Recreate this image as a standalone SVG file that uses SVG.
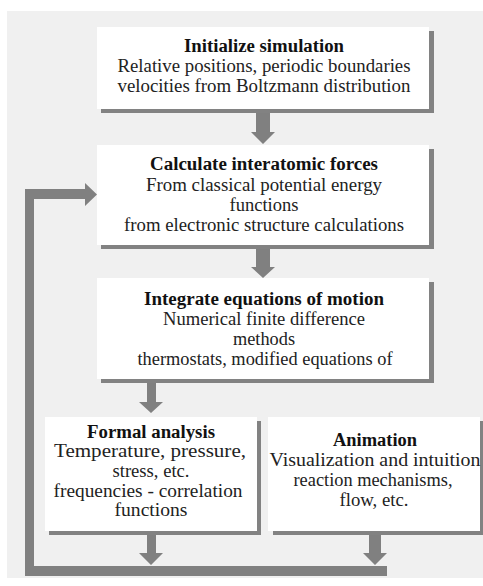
<svg xmlns="http://www.w3.org/2000/svg" width="483" height="586" viewBox="0 0 483 586">
<style>
.panel{fill:#f0f0f0}
.box{fill:#ffffff}
.shadow{fill:#828282}
.arrow{fill:#808080}
text{font-size:18px;fill:#222;text-anchor:middle}
.t{font-weight:bold;fill:#111}
</style>
<rect width="483" height="586" fill="#ffffff"/>
<rect class="panel" x="7" y="11" width="476" height="567"/>
<g id="connectors">
<polygon class="arrow" points="256,113 270,113 270,132 275,132 263,144 251,132 256,132"/>
<polygon class="arrow" points="256,249 270,249 270,267 275,267 263,278 251,267 256,267"/>
<polygon class="arrow" points="147,383 156,383 156,402 163,402 151,413 139,402 147,402"/>
<polygon class="arrow" points="147,535 156,535 156,553 163,553 151,565 139,553 147,553"/>
<polygon class="arrow" points="369,535 381,535 381,553 387,553 375,565 363,553 369,553"/>
<polygon class="arrow" points="25,189 85,189 85,183 97,194.5 85,206 85,199 34,199 34,566 387,566 387,576 25,576"/>
</g>
<g font-family="'Liberation Serif', 'Times New Roman', serif">
<g id="node-init">
<rect class="shadow" x="101" y="31" width="333" height="82"/>
<rect class="box" x="97" y="27" width="332" height="82"/>
<text class="t" x="264" y="52" textLength="160" lengthAdjust="spacingAndGlyphs">Initialize simulation</text>
<text x="264" y="72" textLength="293" lengthAdjust="spacingAndGlyphs">Relative positions, periodic boundaries</text>
<text x="264" y="92" textLength="293" lengthAdjust="spacingAndGlyphs">velocities from Boltzmann distribution</text>
</g>
<g id="node-forces">
<rect class="shadow" x="101" y="149" width="333" height="100"/>
<rect class="box" x="97" y="145" width="332" height="100"/>
<text class="t" x="264" y="170" textLength="228" lengthAdjust="spacingAndGlyphs">Calculate interatomic forces</text>
<text x="264" y="191" textLength="236" lengthAdjust="spacingAndGlyphs">From classical potential energy</text>
<text x="264" y="211" textLength="69" lengthAdjust="spacingAndGlyphs">functions</text>
<text x="264" y="231" textLength="280" lengthAdjust="spacingAndGlyphs">from electronic structure calculations</text>
</g>
<g id="node-integrate">
<rect class="shadow" x="101" y="282" width="333" height="101"/>
<rect class="box" x="97" y="278" width="332" height="101"/>
<text class="t" x="264" y="305" textLength="240" lengthAdjust="spacingAndGlyphs">Integrate equations of motion</text>
<text x="264" y="325" textLength="202" lengthAdjust="spacingAndGlyphs">Numerical finite difference</text>
<text x="264" y="345" textLength="62" lengthAdjust="spacingAndGlyphs">methods</text>
<text x="265" y="365" textLength="255" lengthAdjust="spacingAndGlyphs">thermostats, modified equations of</text>
</g>
<g id="node-formal">
<rect class="shadow" x="49" y="421" width="212" height="114"/>
<rect class="box" x="45" y="417" width="212" height="114"/>
<text class="t" x="151" y="438" textLength="128" lengthAdjust="spacingAndGlyphs">Formal analysis</text>
<text x="150" y="457" textLength="192" lengthAdjust="spacingAndGlyphs">Temperature, pressure,</text>
<text x="151" y="477" textLength="77" lengthAdjust="spacingAndGlyphs">stress, etc.</text>
<text x="148" y="497" textLength="189" lengthAdjust="spacingAndGlyphs">frequencies - correlation</text>
<text x="151" y="516" textLength="73" lengthAdjust="spacingAndGlyphs">functions</text>
</g>
<g id="node-animation">
<rect class="shadow" x="273" y="421" width="212" height="114"/>
<rect class="box" x="268" y="417" width="212" height="114"/>
<text class="t" x="375" y="446" textLength="84" lengthAdjust="spacingAndGlyphs">Animation</text>
<text x="375" y="466" textLength="211" lengthAdjust="spacingAndGlyphs">Visualization and intuition</text>
<text x="373" y="486" textLength="159" lengthAdjust="spacingAndGlyphs">reaction mechanisms,</text>
<text x="374" y="506" textLength="69" lengthAdjust="spacingAndGlyphs">flow, etc.</text>
</g>
</g>
</svg>
